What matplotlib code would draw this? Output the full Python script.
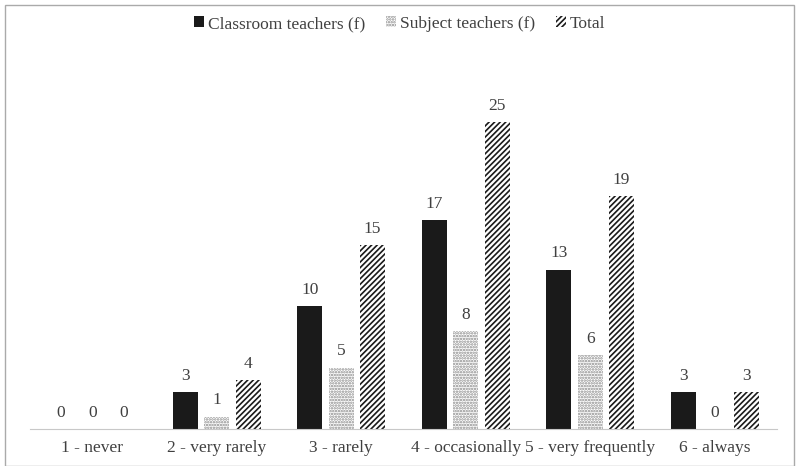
import matplotlib.pyplot as plt
import matplotlib.patches as mpatches
import numpy as np

plt.rcParams['font.family'] = ['Liberation Serif', 'DejaVu Serif']
plt.rcParams['hatch.linewidth'] = 1.2

# data
categories = ['1 - never', '2 - very rarely', '3 - rarely', '4 - occasionally',
              '5 - very frequently', '6 - always']
classroom = [0, 3, 10, 17, 13, 3]
subject = [0, 1, 5, 8, 6, 0]
total = [0, 4, 15, 25, 19, 3]

fig = plt.figure(figsize=(7.99, 4.66), dpi=100)
ax = fig.add_axes([30/799, 1 - 429/466, 747/799, 368/466])

x = np.arange(len(categories))
w = 0.2
off = 0.252

b1 = ax.bar(x - off, classroom, w, color='#1a1a1a', label='Classroom teachers (f)')
b2 = ax.bar(x, subject, w, color='white', edgecolor='#8a8a8a', hatch='......',
            linewidth=0, label='Subject teachers (f)')
b3 = ax.bar(x + off, total, w, color='white', edgecolor='#1a1a1a', hatch='//////',
            linewidth=0, label='Total')

for bars in (b1, b2, b3):
    for r in bars:
        ax.annotate(str(int(r.get_height())), (r.get_x() + r.get_width()/2, r.get_height()),
                    xytext=(0, 6), textcoords='offset points', ha='center', va='bottom',
                    fontsize=12.5, color='#404040')

ax.set_xlim(-0.5, len(categories) - 0.5)
ax.set_ylim(0, 30)
ax.set_xticks(x)
ax.set_xticklabels(categories, fontsize=12.5, color='#404040')
ax.tick_params(axis='x', length=0, pad=8)
ax.set_yticks([])
for s in ['top', 'right', 'left']:
    ax.spines[s].set_visible(False)
ax.spines['bottom'].set_color('#c8c8c8')

leg = fig.legend(handles=[b1, b2, b3], loc='center', bbox_to_anchor=(0.5, 1 - 24/466),
                 ncol=3, frameon=False, fontsize=12.5, handlelength=0.6, handleheight=0.6,
                 handletextpad=0.2, columnspacing=1.2)
for t in leg.get_texts():
    t.set_color('#404040')

fig.patches.append(mpatches.Rectangle((5/799, 0), 789/799, 1 - 5/466, transform=fig.transFigure,
                                      fill=False, edgecolor='#aaaaaa', linewidth=1))

fig.savefig('out.png', dpi=100)
